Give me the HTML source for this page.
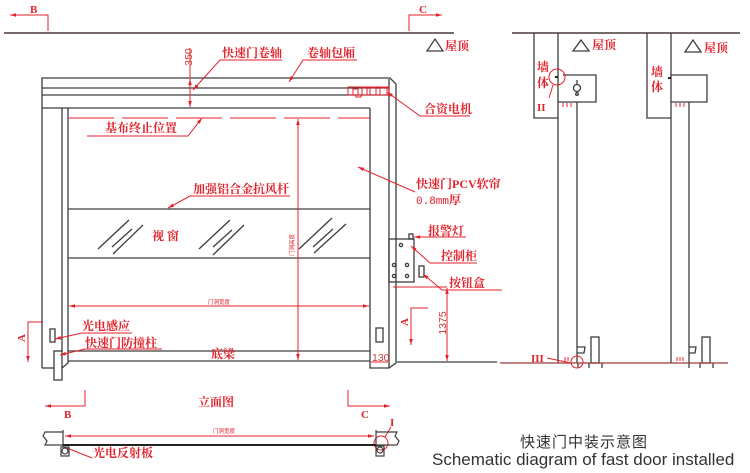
<!DOCTYPE html>
<html><head><meta charset="utf-8">
<style>
html,body{margin:0;padding:0;background:#fff;}
svg{display:block;}
.cn{font-family:"Liberation Serif","Noto Serif CJK SC",serif;font-weight:bold;font-size:12px;fill:#e3222b;}
.lt{font-family:"Liberation Serif","Noto Serif CJK SC",serif;font-weight:bold;font-size:11px;fill:#e3222b;}
.dm{font-family:"Liberation Sans",sans-serif;font-size:10.5px;fill:#d23a3a;}
.tiny{font-family:"Liberation Sans","Noto Sans CJK SC",sans-serif;font-size:5.5px;fill:#e3222b;}
</style></head><body>
<svg width="750" height="473" viewBox="0 0 750 473" xmlns="http://www.w3.org/2000/svg">
<defs>
<marker id="ar" viewBox="0 0 10 10" refX="10" refY="5" markerWidth="6" markerHeight="6" orient="auto-start-reverse"><path d="M0,2 L10,5 L0,8 z" fill="#e3222b"/></marker>
</defs>

<!-- ===== Elevation view (left) ===== -->
<line x1="4" y1="33" x2="454" y2="33" stroke="#4a3838" stroke-width="1.5"/>

<g fill="none" stroke="#e3222b" stroke-width="1">
  <path d="M48,31 L48,15 L10,15" marker-end="url(#ar)"/>
  <path d="M409,31 L409,15 L442,15" marker-end="url(#ar)"/>
</g>
<text class="lt" x="30" y="13">B</text>
<text class="lt" x="419" y="13">C</text>

<g fill="none" stroke="#3d3d3d" stroke-width="1.3">
  <path d="M42,368 L42,78 L390,78 L396,84 L396,363 L389,368 L370,368 L370,108"/>
  <line x1="42" y1="88" x2="389" y2="88"/>
  <line x1="42" y1="95" x2="389" y2="95"/>
  <line x1="42" y1="108" x2="370" y2="108"/>
  <line x1="389" y1="79" x2="389" y2="368"/>
  <line x1="42" y1="368" x2="54" y2="368"/>
  <line x1="62" y1="108" x2="62" y2="351"/>
  <path d="M68,108 L68,363 L62,368"/>
  <rect x="54" y="351" width="8" height="29"/>
  <line x1="68" y1="209" x2="370" y2="209"/>
  <line x1="68" y1="258" x2="370" y2="258"/>
  <line x1="68" y1="351" x2="370" y2="351"/>
  <line x1="68" y1="361" x2="370" y2="361"/>
  <rect x="50" y="329" width="5" height="13"/>
  <rect x="376" y="328" width="7" height="14"/>
  <!-- window slashes -->
  <line x1="98" y1="249" x2="129" y2="220"/>
  <line x1="112" y1="247" x2="132" y2="229"/>
  <line x1="113" y1="254" x2="143" y2="225"/>
  <line x1="199" y1="249" x2="230" y2="220"/>
  <line x1="213" y1="247" x2="232" y2="230"/>
  <line x1="213" y1="255" x2="244" y2="225"/>
  <line x1="299" y1="249" x2="332" y2="218"/>
  <line x1="313" y1="247" x2="333" y2="229"/>
  <line x1="314" y1="253" x2="346" y2="224"/>
  <!-- control box -->
  <rect x="389" y="239" width="25" height="43"/>
  <rect x="409" y="234" width="4" height="5"/>
  <circle cx="401" cy="245" r="1.6"/>
  <circle cx="394" cy="265" r="1.6"/>
  <circle cx="407" cy="265" r="1.6"/>
  <circle cx="394" cy="276" r="1.6"/>
  <circle cx="407" cy="276" r="1.6"/>
  <rect x="419" y="266" width="5" height="11"/>
  <line x1="397" y1="362" x2="497" y2="362"/>
</g>

<!-- motor -->
<g fill="none" stroke="#e3222b" stroke-width="1">
  <rect x="348" y="87" width="41" height="8"/>
  <rect x="353" y="89" width="5" height="6"/>
  <rect x="362" y="88" width="5" height="7"/>
  <rect x="370" y="88" width="6" height="7"/>
  <rect x="380" y="88" width="7" height="7"/>
  <rect x="356" y="95" width="5" height="2"/>
</g>

<!-- red dimension / leader lines -->
<g fill="none" stroke="#e3222b" stroke-width="1">
  <line x1="68" y1="118" x2="370" y2="118" stroke-dasharray="46,8"/>
  <line x1="298" y1="119" x2="298" y2="360" marker-start="url(#ar)" marker-end="url(#ar)"/>
  <line x1="69" y1="306" x2="369" y2="306" marker-start="url(#ar)" marker-end="url(#ar)"/>
  <line x1="190" y1="48" x2="190" y2="78"/>
  <line x1="190" y1="79" x2="190" y2="107" marker-start="url(#ar)" marker-end="url(#ar)"/>
  <line x1="393" y1="287" x2="447" y2="287"/>
  <line x1="447" y1="288" x2="447" y2="361" marker-start="url(#ar)" marker-end="url(#ar)"/>
  <line x1="371" y1="362" x2="388" y2="362"/>
  <path d="M428,308 L411,308 L411,345" marker-end="url(#ar)"/>
  <path d="M43,322 L28,322 L28,362" marker-end="url(#ar)"/>
  <!-- leaders -->
  <path d="M282,60 L220,60 L193,90" marker-end="url(#ar)"/>
  <path d="M357,60 L303,60 L289,82" marker-end="url(#ar)"/>
  <path d="M470,116 L420,116 L387,92" marker-end="url(#ar)"/>
  <path d="M87,136 L188,136 L202,118" marker-end="url(#ar)"/>
  <path d="M290,196 L190,196 L168,208" marker-end="url(#ar)"/>
  <path d="M415,192 L358,167" marker-end="url(#ar)"/>
  <path d="M466,237 L414,237" marker-end="url(#ar)"/>
  <path d="M477,263 L430,263 L411,246" marker-end="url(#ar)"/>
  <path d="M502,290 L442,290 L423,274" marker-end="url(#ar)"/>
  <path d="M132,333 L82,333 L55,339" marker-end="url(#ar)"/>
  <path d="M162,349 L85,349 L60,355" marker-end="url(#ar)"/>
</g>

<text class="dm" transform="translate(192,57) rotate(-90)" text-anchor="middle">350</text>
<text class="dm" transform="translate(446,323) rotate(-90)" text-anchor="middle">1375</text>
<text class="dm" x="372" y="361" font-size="10">130</text>
<text class="lt" transform="translate(408,322) rotate(-90)" text-anchor="middle">A</text>
<text class="lt" transform="translate(25,338) rotate(-90)" text-anchor="middle">A</text>
<text class="tiny" transform="translate(294,245) rotate(-90)" text-anchor="middle">门洞高度</text>
<text class="tiny" x="208" y="304">门洞宽度</text>

<text class="cn" x="222" y="57">快速门卷轴</text>
<text class="cn" x="307" y="57">卷轴包厢</text>
<text class="cn" x="424" y="113">合资电机</text>
<text class="cn" x="105" y="132">基布终止位置</text>
<text class="cn" x="193" y="193">加强铝合金抗风杆</text>
<text class="cn" x="416" y="188">快速门PCV软帘</text>
<text x="416" y="204" style="font-family:'Liberation Mono','Noto Serif CJK SC',monospace;font-size:11px;fill:#e3222b;">0.8mm<tspan style="font-family:'Liberation Serif','Noto Serif CJK SC',serif;font-weight:bold;font-size:12px">厚</tspan></text>
<text class="cn" x="428" y="235">报警灯</text>
<text class="cn" x="441" y="260">控制柜</text>
<text class="cn" x="449" y="287">按钮盒</text>
<text class="cn" x="82" y="330">光电感应</text>
<text class="cn" x="85" y="347">快速门防撞柱</text>
<text class="cn" x="211" y="358">底梁</text>
<text class="cn" x="152" y="240">视 窗</text>

<!-- roof marker (left view) -->
<polygon points="427,51 435,39 443,51" fill="none" stroke="#3d3d3d" stroke-width="1.2"/>
<text class="cn" x="445" y="50" font-size="11.5">屋顶</text>

<!-- ===== Plan view (bottom) ===== -->
<g fill="none" stroke="#e3222b" stroke-width="1">
  <path d="M85,390 L85,406 L45,406" marker-end="url(#ar)"/>
  <path d="M348,390 L348,406 L390,406" marker-end="url(#ar)"/>
  <line x1="65" y1="436" x2="374" y2="436" marker-start="url(#ar)" marker-end="url(#ar)"/>
  <circle cx="381" cy="443" r="7"/>
  <line x1="391" y1="427" x2="385" y2="437"/>
  <line x1="67" y1="448" x2="92" y2="458"/>
</g>
<text class="cn" x="198" y="406">立面图</text>
<text class="lt" x="64" y="418">B</text>
<text class="lt" x="361" y="418">C</text>
<text class="lt" x="390" y="426">I</text>
<text class="tiny" x="213" y="433">门洞宽度</text>
<text class="cn" x="93" y="457">光电反射板</text>

<g fill="none" stroke="#3d3d3d" stroke-width="1.2">
  <path d="M63,432 L45,432 L43,436 L47,441 L45,445 L63,445"/>
  <line x1="63" y1="430" x2="63" y2="447"/>
  <rect x="61" y="447" width="8" height="9"/>
  <circle cx="65" cy="451" r="3"/>
  <path d="M376,432 L397,432 L395,436 L399,441 L397,445 L376,445"/>
  <line x1="376" y1="430" x2="376" y2="447"/>
  <rect x="376" y="446" width="8" height="10"/>
  <circle cx="380" cy="450" r="3"/>
</g>
<line x1="63" y1="445" x2="376" y2="445" stroke="#222" stroke-width="2"/>

<!-- caption -->
<text x="584" y="447" text-anchor="middle" style="font-family:'Liberation Sans','Noto Sans CJK SC',sans-serif;font-size:15px;fill:#333;letter-spacing:1px;">快速门中装示意图</text>
<text x="432" y="465" style="font-family:'Liberation Sans',sans-serif;font-size:17px;fill:#333;">Schematic diagram of fast door installed</text>

<!-- ===== Section views (right) ===== -->
<line x1="512" y1="33" x2="740" y2="33" stroke="#4a3838" stroke-width="1.5"/>
<g fill="none" stroke="#3d3d3d" stroke-width="1.3">
  <path d="M534,33 L534,118 L558,118"/>
  <line x1="558" y1="33" x2="558" y2="363"/>
  <line x1="577" y1="102" x2="577" y2="363"/>
  <path d="M563,75 L596,75 L596,102 L558,102"/>
  <circle cx="577" cy="88" r="3.5"/>
  <line x1="577" y1="80" x2="577" y2="84"/>
  <circle cx="577" cy="94" r="1.3"/>
  <polygon points="573,51 581,40 589,51"/>
  <path d="M577,347 L585,347 L584,353 L577,353"/>
  <rect x="591" y="337" width="8" height="26"/>
  <line x1="578" y1="363" x2="578" y2="368"/>
  <line x1="589" y1="363" x2="589" y2="368"/>
  <line x1="602" y1="363" x2="602" y2="368"/>

  <path d="M647,33 L647,118 L671,118"/>
  <line x1="671" y1="33" x2="671" y2="363"/>
  <line x1="689" y1="102" x2="689" y2="363"/>
  <path d="M671,75 L707,75 L707,102 L671,102"/>
  <polygon points="685,52 693,40 701,52"/>
  <path d="M689,347 L696,347 L695,353 L689,353"/>
  <rect x="702" y="337" width="8" height="26"/>
  <line x1="689" y1="363" x2="689" y2="368"/>
  <line x1="700" y1="363" x2="700" y2="368"/>
  <line x1="713" y1="363" x2="713" y2="368"/>
</g>
<rect x="555" y="76" width="3" height="2" fill="#222"/>
<rect x="668" y="77" width="3" height="2" fill="#222"/>
<line x1="500" y1="363" x2="728" y2="363" stroke="#9a3a3a" stroke-width="1.3"/>

<g fill="none" stroke="#e3222b" stroke-width="1">
  <circle cx="557" cy="77" r="8"/>
  <line x1="549" y1="98" x2="553" y2="85"/>
  <line x1="563" y1="103" x2="563" y2="107"/>
  <line x1="567" y1="103" x2="567" y2="107"/>
  <line x1="571" y1="103" x2="571" y2="107"/>
  <line x1="676" y1="103" x2="676" y2="107"/>
  <line x1="680" y1="103" x2="680" y2="107"/>
  <line x1="684" y1="103" x2="684" y2="107"/>
  <circle cx="577" cy="362" r="6"/>
  <line x1="547" y1="358" x2="571" y2="363"/>
  <line x1="565" y1="357" x2="565" y2="361"/>
  <line x1="568" y1="357" x2="568" y2="361"/>
  <line x1="677" y1="357" x2="677" y2="361"/>
  <line x1="680" y1="357" x2="680" y2="361"/>
  <line x1="683" y1="357" x2="683" y2="361"/>
</g>
<text class="cn" x="537" y="71">墙</text>
<text class="cn" x="537" y="87">体</text>
<text class="lt" x="537" y="111">II</text>
<text class="cn" x="651" y="76">墙</text>
<text class="cn" x="651" y="91">体</text>
<text class="lt" x="531" y="362">III</text>
<text class="cn" x="592" y="49" font-size="11.5">屋顶</text>
<text class="cn" x="704" y="52" font-size="11.5">屋顶</text>
</svg>
</body></html>
